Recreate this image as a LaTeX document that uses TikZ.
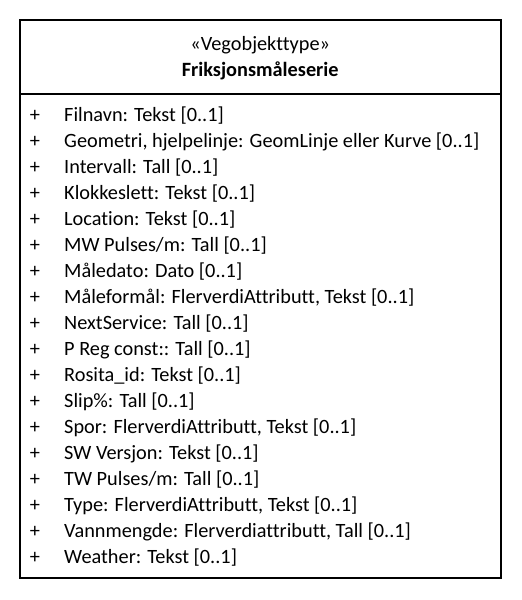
\documentclass[tikz,border=0pt]{standalone}
\usepackage{fontspec}
\setmainfont{Carlito}[Ligatures=NoCommon]
\begin{document}
\begin{tikzpicture}[x=1pt,y=-1pt,
  boxline/.style={line width=2pt, draw=black},
  txt/.style={inner sep=0pt, font=\fontsize{20.3}{24}\selectfont},
  attr/.style={txt, anchor=base west},
  vis/.style={txt, anchor=base},
  head/.style={txt, anchor=base}]
\useasboundingbox (0,0) rectangle (522,600);
% class box and compartment divider
\draw[boxline] (20,20) rectangle (500.5,578);
\draw[boxline] (20,94) -- (500.5,94);
% header
\node[head] (stereo) at (260.25,50) {«Vegobjekttype»};
\node[head, font=\fontsize{20.3}{24}\selectfont\bfseries] (name) at (260.25,76) {Friksjonsmåleserie};
% attributes
\foreach \t [count=\i from 0] in {
  {Filnavn: Tekst [0..1]},
  {Geometri, hjelpelinje: GeomLinje eller Kurve [0..1]},
  {Intervall: Tall [0..1]},
  {Klokkeslett: Tekst [0..1]},
  {Location: Tekst [0..1]},
  {MW Pulses/m: Tall [0..1]},
  {Måledato: Dato [0..1]},
  {Måleformål: FlerverdiAttributt, Tekst [0..1]},
  {NextService: Tall [0..1]},
  {P Reg const:: Tall [0..1]},
  {Rosita\_id: Tekst [0..1]},
  {Slip\%: Tall [0..1]},
  {Spor: FlerverdiAttributt, Tekst [0..1]},
  {SW Versjon: Tekst [0..1]},
  {TW Pulses/m: Tall [0..1]},
  {Type: FlerverdiAttributt, Tekst [0..1]},
  {Vannmengde: Flerverdiattributt, Tall [0..1]},
  {Weather: Tekst [0..1]}}
{
  \node[vis] (p\i) at (35,121+26*\i) {+};
  \node[attr] (a\i) at (64,121+26*\i) {\t};
}
\end{tikzpicture}
\end{document}
